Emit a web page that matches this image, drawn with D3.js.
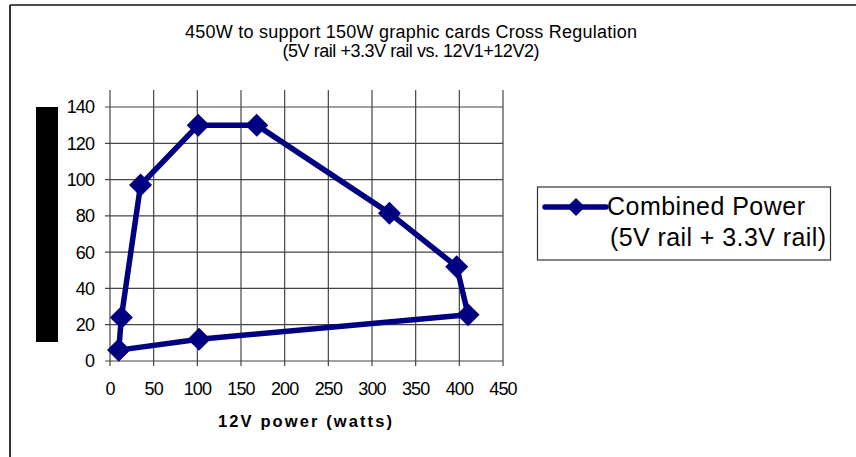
<!DOCTYPE html>
<html>
<head>
<meta charset="utf-8">
<script src="https://cdn.jsdelivr.net/npm/d3@7/dist/d3.min.js"></script>
<style>
  html, body { margin: 0; padding: 0; background: #fff; }
  svg { display: block; }
  text { font-family: "Liberation Sans", Arial, sans-serif; }
</style>
</head>
<body>
<svg id="chart" width="856" height="457"></svg>
<script>
// ---- data ----
const titleLines = ["450W to support 150W graphic cards Cross Regulation", "(5V rail +3.3V rail vs. 12V1+12V2)"];
const xTitle = "12V power (watts)";
const seriesName = ["Combined Power", "(5V rail + 3.3V rail)"];
const power12V = [10, 13, 35, 101, 168, 320, 397, 410, 102, 10];
const combined = [6, 24, 97, 130, 130, 81.5, 52, 25.5, 12, 6];
const xTicks = [0, 50, 100, 150, 200, 250, 300, 350, 400, 450];
const yTicks = [0, 20, 40, 60, 80, 100, 120, 140];

const svg = d3.select("#chart");
const W = 856, H = 457;
svg.append("rect").attr("width", W).attr("height", H).attr("fill", "#fff");

// frame
svg.append("line").attr("x1", 10).attr("x2", 10).attr("y1", 5).attr("y2", H)
  .attr("stroke", "#333").attr("stroke-width", 2);
svg.append("line").attr("x1", 10).attr("x2", W).attr("y1", 5).attr("y2", 5)
  .attr("stroke", "#111").attr("stroke-width", 1.5);

const x = d3.scaleLinear().domain([0, 450]).range([110, 503]);
const y = d3.scaleLinear().domain([0, 140]).range([361, 107]);
const plotTop = 90;

// grid lines
const grid = svg.append("g").attr("stroke", "#444").attr("stroke-width", 1.2);
grid.selectAll("line.v").data(xTicks).join("line")
  .attr("x1", d => x(d)).attr("x2", d => x(d))
  .attr("y1", plotTop).attr("y2", y(0) + 5);
grid.selectAll("line.h").data(yTicks).join("line")
  .attr("x1", x(0) - 5).attr("x2", x(450))
  .attr("y1", d => y(d)).attr("y2", d => y(d));

// tick labels
svg.append("g").selectAll("text").data(xTicks).join("text")
  .attr("x", d => x(d)).attr("y", 395)
  .attr("text-anchor", "middle").attr("font-size", 18).attr("fill", "#000")
  .attr("letter-spacing", -0.9)
  .text(d => d);
svg.append("g").selectAll("text").data(yTicks).join("text")
  .attr("x", 94).attr("y", d => y(d)).attr("dy", "0.36em")
  .attr("text-anchor", "end").attr("font-size", 18).attr("fill", "#000")
  .attr("letter-spacing", -0.9)
  .text(d => d);

// y-axis title placeholder (black block)
svg.append("rect").attr("x", 36).attr("y", y(140)).attr("width", 22).attr("height", 235).attr("fill", "#000");

// x-axis title
svg.append("text").attr("x", 305).attr("y", 426.5).attr("text-anchor", "middle")
  .attr("font-size", 16.5).attr("font-weight", "bold").attr("textLength", 174)
  .text(xTitle);

// title
svg.append("g").selectAll("text").data(titleLines).join("text")
  .attr("x", 411).attr("y", (d, i) => 38 + i * 19).attr("text-anchor", "middle")
  .attr("font-size", 18)
  .attr("textLength", (d, i) => i === 0 ? 452 : 257)
  .text(d => d);

// series
const pts = power12V.map((v, i) => [v, combined[i]]);
const navy = "#000080";
svg.append("path").datum(pts)
  .attr("d", d3.line().x(d => x(d[0])).y(d => y(d[1])))
  .attr("fill", "none").attr("stroke", navy).attr("stroke-width", 5.5)
  .attr("stroke-linejoin", "round");
const diamond = (cx, cy, r) => `M${cx},${cy - r}L${cx + r},${cy}L${cx},${cy + r}L${cx - r},${cy}Z`;
svg.append("g").selectAll("path").data(pts).join("path")
  .attr("d", d => diamond(x(d[0]), y(d[1]), 11.5))
  .attr("fill", navy);

// legend
const lg = svg.append("g");
lg.append("rect").attr("x", 537.5).attr("y", 187).attr("width", 293).attr("height", 73)
  .attr("fill", "#fff").attr("stroke", "#333").attr("stroke-width", 1.2);
lg.append("line").attr("x1", 545).attr("x2", 606).attr("y1", 207).attr("y2", 207)
  .attr("stroke", navy).attr("stroke-width", 5.5).attr("stroke-linecap", "round");
lg.append("path").attr("d", diamond(576, 207, 9)).attr("fill", navy);
lg.selectAll("text").data(seriesName).join("text")
  .attr("x", (d, i) => i === 0 ? 607 : 610)
  .attr("y", (d, i) => 215 + i * 31)
  .attr("font-size", 25)
  .attr("textLength", (d, i) => i === 0 ? 198 : 216)
  .text(d => d);
</script>
</body>
</html>
